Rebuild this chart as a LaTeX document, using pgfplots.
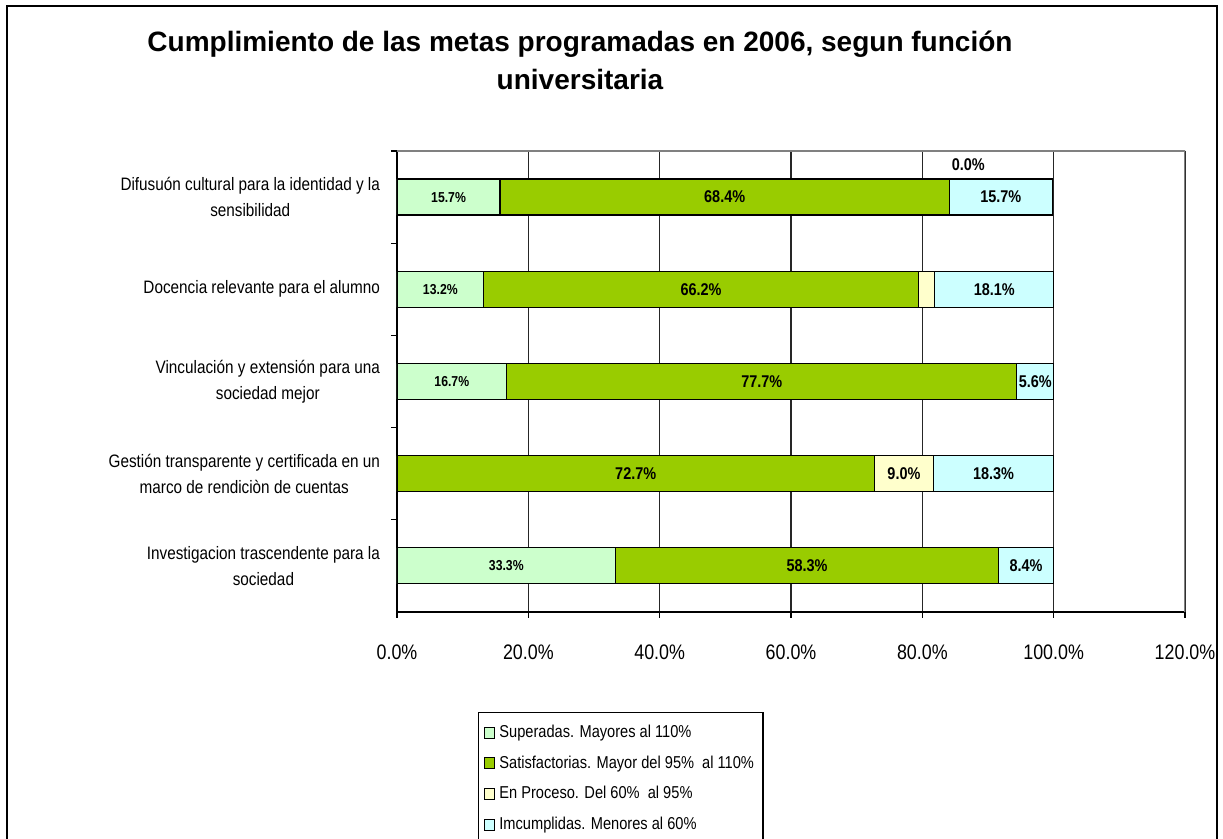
\documentclass[border=0pt]{standalone}
\usepackage{fontspec}
\setmainfont{Liberation Sans}
\newfontfamily\narrow[FakeStretch=0.85]{Liberation Sans}
\usepackage{pgfplots}
\pgfplotsset{compat=1.18, /pgf/number format/assume math mode=true}
\definecolor{cSup}{HTML}{CCFFCC}
\definecolor{cSat}{HTML}{99CC00}
\definecolor{cPro}{HTML}{FFFFCC}
\definecolor{cInc}{HTML}{CCFFFF}
\begin{document}
\begin{tikzpicture}
\useasboundingbox (0,0) rectangle (611.5pt,419.5pt);
\draw[line width=1.2pt] (3.5pt,-2pt) -- (3.5pt,416.5pt) -- (608.5pt,416.5pt) -- (608.5pt,-2pt);
\node[font=\fontsize{14}{19}\selectfont\bfseries, align=center] at (290pt,389.5pt) {Cumplimiento de las metas programadas en 2006, segun función\\universitaria};
\begin{axis}[
  at={(198.5pt,113.5pt)}, anchor=south west,
  scale only axis, width=394pt, height=230.5pt,
  xbar stacked, bar width=18pt,
  xmin=0, xmax=120, ymin=-0.5, ymax=4.5,
  axis x line*=bottom, axis y line*=left,
  axis line style={-, black, line width=0.6pt},
  xtick={0,20,...,120},
  xticklabel={\pgfmathprintnumber[fixed,fixed zerofill,precision=1]{\tick}\%},
  xticklabel style={font=\narrow\fontsize{10.5}{12}\selectfont, yshift=-10pt},
  ytick={0.5,1.5,2.5,3.5,4.5},
  yticklabels={{Investigacion trascendente para la\\sociedad},
               {Gestión transparente y certificada en un\\marco de rendiciòn de cuentas},
               {Vinculación y extensión para una\\sociedad mejor},
               {Docencia relevante para el alumno},
               {Difusuón cultural para la identidad y la\\sensibilidad}},
  yticklabel style={yshift=-23.05pt, align=center, font=\narrow\fontsize{9}{13}\selectfont, xshift=-2pt},
  tick align=outside, major tick length=3pt,
  tick style={black, line width=0.6pt},
  xmajorgrids, grid style={black!85, line width=0.6pt},
  legend image code/.code={\draw[#1, line width=0.5pt] (0pt,-2.7pt) rectangle (5.4pt,2.7pt);},
  legend cell align=left,
  legend style={at={(0.1028,-0.2169)}, anchor=north west, draw=black, line width=0.6pt,
    font=\narrow\fontsize{8.6}{10}\selectfont, row sep=3.6pt, inner xsep=2.5pt, inner ysep=4.2pt},
]
\addplot[fill=cSup, draw=black, line width=0.6pt] coordinates {(33.3,0) (0,1) (16.7,2) (13.2,3) (15.7,4)};
\addlegendentry{Superadas. Mayores al 110\%}
\addplot[fill=cSat, draw=black, line width=0.6pt] coordinates {(58.3,0) (72.7,1) (77.7,2) (66.2,3) (68.4,4)};
\addlegendentry{Satisfactorias. Mayor del 95\% \ al 110\%}
\addplot[fill=cPro, draw=black, line width=0.6pt] coordinates {(0,0) (9.0,1) (0,2) (2.5,3) (0,4)};
\addlegendentry{En Proceso. Del 60\% \ al 95\%}
\addplot[fill=cInc, draw=black, line width=0.6pt] coordinates {(8.4,0) (18.3,1) (5.6,2) (18.1,3) (15.7,4)};
\addlegendentry{Imcumplidas. Menores al 60\%}
\draw[gray, line width=0.6pt] (rel axis cs:0,1) -- (rel axis cs:1,1) -- (rel axis cs:1,0);
\end{axis}
\begin{axis}[
  at={(198.5pt,113.5pt)}, anchor=south west,
  scale only axis, width=394pt, height=230.5pt,
  xmin=0, xmax=120, ymin=-0.5, ymax=4.5,
  hide axis, clip=false,
  point meta=explicit,
  nodes near coords={\pgfmathprintnumber[fixed,fixed zerofill,precision=1,assume math mode=true]{\pgfplotspointmeta}\%},
]
\addplot[draw=none, mark=none, every node near coord/.append style={anchor=center, font=\narrow\bfseries\fontsize{7.2}{8}\selectfont}] table[meta=v] {
x y v
7.85 4 15.7
6.6 3 13.2
8.35 2 16.7
16.65 0 33.3
};
\addplot[draw=none, mark=none, every node near coord/.append style={anchor=center, font=\narrow\bfseries\fontsize{8.5}{10}\selectfont}] table[meta=v] {
x y v
49.9 4 68.4
87.0 4.35 0.0
91.95 4 15.7
46.3 3 66.2
90.95 3 18.1
55.55 2 77.7
97.2 2 5.6
36.35 1 72.7
77.2 1 9.0
90.85 1 18.3
62.45 0 58.3
95.8 0 8.4
};
\end{axis}
\end{tikzpicture}
\end{document}
